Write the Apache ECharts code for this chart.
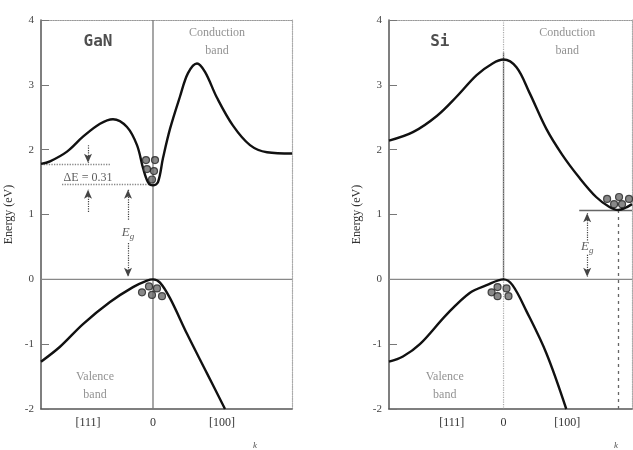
<!DOCTYPE html>
<html>
<head>
<meta charset="utf-8">
<script src="https://cdn.jsdelivr.net/npm/echarts@6/dist/echarts.min.js"></script>
<style>
  html, body { margin: 0; padding: 0; background: #fff; }
  #chart { width: 633px; height: 450px; }
</style>
</head>
<body>
<div id="chart"></div>
<script>
// k in arbitrary units (0 = Gamma point), energy in eV
const ganConduction = [
  [-112, 1.78], [-103, 1.82], [-86, 1.97], [-70, 2.2], [-53, 2.4], [-40, 2.47],
  [-26, 2.35], [-16, 2.07], [-10, 1.72], [-5, 1.5], [0, 1.45], [5, 1.5],
  [10, 1.87], [17, 2.32], [27, 2.82], [35, 3.18], [44, 3.33], [52, 3.2],
  [64, 2.8], [80, 2.37], [97, 2.07], [114, 1.96], [139, 1.94]
];
const ganValence = [
  [-112, -1.27], [-93, -1.04], [-70, -0.69], [-43, -0.35], [-20, -0.12], [-6, -0.02],
  [0, 0], [7, -0.05], [17, -0.29], [34, -0.84], [54, -1.45], [72, -2.0]
];
const siConduction = [
  [-115, 2.14], [-91, 2.27], [-67, 2.52], [-47, 2.82], [-27, 3.15], [-11, 3.33],
  [0, 3.39], [13, 3.27], [26, 2.88], [43, 2.32], [59, 1.92], [76, 1.57],
  [93, 1.27], [106, 1.12], [115, 1.07], [122, 1.1], [129, 1.16]
];
const siValence = [
  [-115, -1.27], [-101, -1.19], [-84, -1.0], [-57, -0.54], [-34, -0.21], [-17, -0.09],
  [0, 0], [9, -0.09], [23, -0.49], [43, -1.14], [63, -2.0]
];
const ganElectrons = [[-7, 1.84], [2, 1.84], [-6, 1.7], [1, 1.67], [-1, 1.54]];
const ganHoles = [[-4, -0.11], [4, -0.14], [-11, -0.2], [-1, -0.24], [9, -0.26]];
const siElectrons = [[104, 1.24], [116, 1.27], [126, 1.24], [111, 1.16], [119, 1.16]];
const siHoles = [[-6, -0.12], [3, -0.14], [-12, -0.2], [-6, -0.26], [5, -0.26]];

// arrows: [k, fromE, toE]
const ganArrows = [[-65, 2.07, 1.8], [-65, 1.04, 1.38], [-25, 0.92, 1.38], [-25, 0.56, 0.04]];
const siArrows = [[84, 0.6, 1.02], [84, 0.38, 0.04]];
// reference lines: [k1, E1, k2, E2]
const ganRefLines = [[-112, 1.78, -42, 1.78], [-91, 1.46, 0, 1.46]];
const siRefLines = [[76, 1.07, 129, 1.07]];
const siDropLine = [[115, 1.07, 115, -2]];

const energyTicks = [-2, -1, 0, 1, 2, 3, 4];
const ganKTicks = [[-65, '[111]'], [0, '0'], [69, '[100]'], [102, 'k']];
const siKTicks = [[-52, '[111]'], [0, '0'], [64, '[100]'], [113, 'k']];

// annotation texts: [k, E, text, kind]
const ganTexts = [[-55, 3.66, 'GaN', 'title'], [64, 3.66, 'Conduction\nband', 'band'],
  [-58, -1.65, 'Valence\nband', 'band'], [-65, 1.57, 'ΔE = 0.31', 'note'], [-25, 0.72, '{e|E}{g|g}', 'note']];
const siTexts = [[-64, 3.66, 'Si', 'title'], [64, 3.66, 'Conduction\nband', 'band'],
  [-59, -1.65, 'Valence\nband', 'band'], [84, 0.5, '{e|E}{g|g}', 'note']];

const serif = 'Liberation Serif, DejaVu Serif, serif';
const chart = echarts.init(document.getElementById('chart'));

const kAxis = (idx, min, max, ticks) => [
  {
    type: 'value', gridIndex: idx, min: min, max: max, position: 'bottom',
    axisLine: { onZero: false, lineStyle: { color: '#555', width: 1.5 } },
    axisTick: { show: false },
    splitLine: { show: false },
    axisLabel: {
      customValues: ticks.map(t => t[0]),
      formatter: v => {
        const t = ticks.find(d => d[0] === v);
        if (!t) return '';
        return t[1] === 'k' ? '{k|k}' : t[1];
      },
      color: '#333', fontFamily: serif, fontSize: 12, margin: 8,
      rich: { k: { fontStyle: 'italic', fontSize: 9, color: '#555', padding: [24, 0, 0, 0], fontFamily: serif } }
    }
  },
  {
    type: 'value', gridIndex: idx, min: min, max: max, position: 'top',
    axisLine: { onZero: false, lineStyle: { color: '#999', type: 'dotted', width: 1.2 } },
    axisTick: { show: false }, axisLabel: { show: false }, splitLine: { show: false }
  }
];

const eAxis = (idx) => [
  {
    type: 'value', gridIndex: idx, min: -2, max: 4, interval: 1, position: 'left',
    name: 'Energy (eV)', nameLocation: 'middle', nameGap: 26,
    nameTextStyle: { fontFamily: serif, fontSize: 12, color: '#333' },
    axisLine: { show: true, onZero: false, lineStyle: { color: '#555', width: 1.5 } },
    axisTick: { show: true, inside: true, length: 8, lineStyle: { color: '#777' } },
    axisLabel: { color: '#444', fontFamily: serif, fontSize: 11, margin: 7,
      formatter: v => energyTicks.includes(v) ? String(v) : '' },
    splitLine: { show: false }
  },
  {
    type: 'value', gridIndex: idx, min: -2, max: 4, position: 'right',
    axisLine: { show: true, onZero: false, lineStyle: { color: '#aaa', type: 'dotted', width: 1.2 } },
    axisTick: { show: false }, axisLabel: { show: false }, splitLine: { show: false }
  }
];

const curve = (name, data, xi, yi) => ({
  name: name, type: 'line', xAxisIndex: xi, yAxisIndex: yi, data: data,
  smooth: 0.35, showSymbol: false, symbol: 'none',
  lineStyle: { color: '#111', width: 2.4 }, z: 5, silent: true
});

const dots = (data, xi, yi) => ({
  type: 'scatter', xAxisIndex: xi, yAxisIndex: yi, data: data, symbolSize: 7,
  itemStyle: { color: '#6a6a6a', borderColor: '#222', borderWidth: 1.2 }, z: 6, silent: true
});

const texts = (data, xi, yi) => ({
  type: 'scatter', xAxisIndex: xi, yAxisIndex: yi, symbolSize: 0, silent: true, z: 7,
  data: data.map(d => ({
    value: [d[0], d[1]],
    label: {
      show: true, position: 'inside', formatter: d[2],
      fontFamily: d[3] === 'title' ? 'DejaVu Sans Mono, monospace' : serif,
      fontWeight: d[3] === 'title' ? 'bold' : 'normal',
      fontSize: d[3] === 'title' ? 16 : 12,
      lineHeight: d[3] === 'band' ? 18 : 16,
      color: d[3] === 'title' ? '#222' : (d[3] === 'band' ? '#777' : '#333'),
      rich: {
        e: { fontFamily: serif, fontStyle: 'italic', fontSize: 13, color: '#333' },
        g: { fontFamily: serif, fontStyle: 'italic', fontSize: 9, color: '#333', padding: [8, 0, 0, 0] }
      }
    }
  }))
});

const zeroLine = (xi, yi, kmin, kmax) => ({
  type: 'line', xAxisIndex: xi, yAxisIndex: yi, silent: true, showSymbol: false, symbol: 'none',
  data: [[kmin, 0], [kmax, 0]], lineStyle: { color: '#888', width: 1.3 }, z: 2
});

const vLine = (xi, yi, top, bottom, style) => ({
  type: 'line', xAxisIndex: xi, yAxisIndex: yi, silent: true, showSymbol: false, symbol: 'none',
  data: [[0, top], [0, bottom]], lineStyle: style, z: 2
});

const arrowSeries = (arrows, xi, yi) => ({
  type: 'line', xAxisIndex: xi, yAxisIndex: yi, data: [], silent: true,
  markLine: {
    silent: true, animation: false, label: { show: false }, symbol: ['none', 'arrow'], symbolSize: [6, 9],
    lineStyle: { color: '#444', type: 'dotted', width: 1.2 },
    data: arrows.map(a => [{ coord: [a[0], a[1]] }, { coord: [a[0], a[2]] }])
  }
});

const refSeries = (refs, xi, yi, style) => ({
  type: 'line', xAxisIndex: xi, yAxisIndex: yi, data: [], silent: true,
  markLine: {
    silent: true, animation: false, label: { show: false }, symbol: 'none',
    lineStyle: style,
    data: refs.map(r => [{ coord: [r[0], r[1]] }, { coord: [r[2], r[3]] }])
  }
});

chart.setOption({
  animation: false,
  backgroundColor: '#fff',
  grid: [
    { left: 41, right: 341, top: 20, bottom: 31 },
    { left: 389, right: 1, top: 20, bottom: 31 }
  ],
  xAxis: [...kAxis(0, -112, 139, ganKTicks), ...kAxis(1, -115, 129, siKTicks)],
  yAxis: [...eAxis(0), ...eAxis(1)],
  series: [
    zeroLine(0, 0, -112, 139),
    vLine(0, 0, 4, -2, { color: '#777', width: 1.3 }),
    refSeries(ganRefLines, 0, 0, { color: '#888', type: 'dotted', width: 1.3 }),
    arrowSeries(ganArrows, 0, 0),
    curve('GaN conduction', ganConduction, 0, 0),
    curve('GaN valence', ganValence, 0, 0),
    dots(ganElectrons, 0, 0),
    dots(ganHoles, 0, 0),
    texts(ganTexts, 0, 0),

    zeroLine(2, 2, -115, 129),
    vLine(2, 2, 3.5, 0, { color: '#555', width: 1.3 }),
    vLine(2, 2, 4, -2, { color: '#aaa', type: 'dotted', width: 1.2 }),
    refSeries(siRefLines, 2, 2, { color: '#666', type: 'solid', width: 1.3 }),
    refSeries(siDropLine, 2, 2, { color: '#666', type: [3, 4], width: 1.3 }),
    arrowSeries(siArrows, 2, 2),
    curve('Si conduction', siConduction, 2, 2),
    curve('Si valence', siValence, 2, 2),
    dots(siElectrons, 2, 2),
    dots(siHoles, 2, 2),
    texts(siTexts, 2, 2)
  ]
});
</script>
</body>
</html>
